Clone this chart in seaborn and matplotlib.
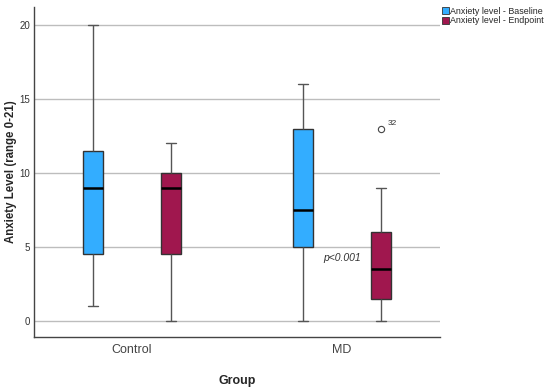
import pandas as pd
import matplotlib.pyplot as plt
import seaborn as sns

# five-number summaries
groups = ['Control', 'Control', 'MD', 'MD']
times = ['Anxiety level - Baseline', 'Anxiety level - Endpoint',
         'Anxiety level - Baseline', 'Anxiety level - Endpoint']
mins = [1, 0, 0, 0]
q1s = [4.5, 4.5, 5, 1.5]
medians = [9, 9, 7.5, 3.5]
q3s = [11.5, 10, 13, 6]
maxs = [20, 12, 16, 9]
outliers = [None, None, None, 13]
outlier_ids = [None, None, None, '32']

# 9 values per box so the percentiles land exactly on the summary
rows = []
for g, t, lo, a, m, b, hi, out in zip(groups, times, mins, q1s, medians, q3s, maxs, outliers):
    vals = [lo, lo, a, a, m, b, b, hi, hi]
    if out is not None:
        vals[-1] = out
    for v in vals:
        rows.append({'Group': g, 'Time': t, 'Anxiety': v})
df = pd.DataFrame(rows)

sns.set_style('white')
plt.rcParams['font.family'] = ['Liberation Sans', 'DejaVu Sans']

fig = plt.figure(figsize=(5.5, 3.88), dpi=100)
ax = fig.add_axes([0.062, 0.131, 0.738, 0.851])

palette = {'Anxiety level - Baseline': '#33ADFF', 'Anxiety level - Endpoint': '#A0174E'}
sns.boxplot(data=df, x='Group', y='Anxiety', hue='Time', palette=palette,
            width=0.74, gap=0.74, whis=1.5, linewidth=1, linecolor='#333333',
            medianprops={'color': 'black', 'linewidth': 1.8},
            whiskerprops={'color': '#555555'}, capprops={'color': '#555555'},
            flierprops={'marker': 'o', 'markersize': 4.5, 'markerfacecolor': 'none',
                        'markeredgecolor': '#444444', 'markeredgewidth': 0.8},
            saturation=1, ax=ax, zorder=3)

ax.set_xlim(-0.467, 1.467)
ax.set_ylim(-1.08, 21.2)
ax.set_yticks([0, 5, 10, 15, 20])
ax.yaxis.grid(True, color='#bdbdbd', linewidth=1)
ax.set_axisbelow(True)
for s in ['top', 'right']:
    ax.spines[s].set_visible(False)
for s in ['left', 'bottom']:
    ax.spines[s].set_color('#444444')
    ax.spines[s].set_linewidth(1)
ax.tick_params(axis='both', length=0)
ax.tick_params(axis='y', labelsize=7, colors='#333333', pad=3)
ax.tick_params(axis='x', labelsize=9, colors='#444444', pad=5)

ax.set_xlabel('Group', fontsize=9, fontweight='bold')
ax.set_ylabel('Anxiety Level (range 0-21)', fontsize=8.3, fontweight='bold')
ax.xaxis.set_label_coords(0.5, -0.115)
ax.yaxis.set_label_coords(-0.042, 0.5)

# outlier case number
for i, (out, oid) in enumerate(zip(outliers, outlier_ids)):
    if out is not None:
        ax.text(1.186 + 0.03, out + 0.25, oid, fontsize=6, color='#333333')

ax.text(1.0, 4.26, 'p<0.001', fontsize=7.5, style='italic', color='#333333',
        ha='center', va='center')

leg = ax.legend(loc='upper left', bbox_to_anchor=(0.99, 1.02), frameon=False,
                fontsize=6.4, handlelength=0.75, handleheight=0.9, handletextpad=0.15,
                labelspacing=0.1, borderaxespad=0.3)
for h in leg.legend_handles:
    h.set_edgecolor('#333333')
    h.set_linewidth(0.6)

fig.savefig('out.png', dpi=100)
